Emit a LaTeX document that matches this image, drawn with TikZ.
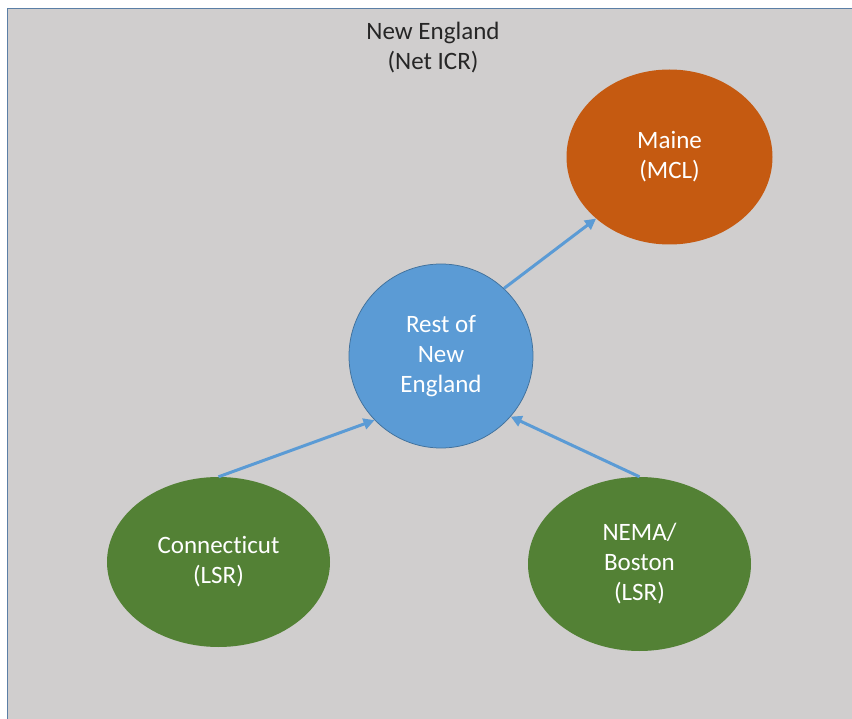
\documentclass[tikz,border=0pt]{standalone}
\usepackage{fontspec}
\setmainfont[Ligatures=NoCommon]{Carlito}
\usetikzlibrary{shapes.geometric,arrows.meta}
\definecolor{bgfill}{HTML}{D0CECE}
\definecolor{framec}{HTML}{5B7FA6}
\definecolor{orangeM}{HTML}{C55A11}
\definecolor{blueC}{HTML}{5B9BD5}
\definecolor{blueD}{HTML}{41719C}
\definecolor{greenC}{HTML}{538135}
\definecolor{titlec}{HTML}{262626}
\begin{document}
\begin{tikzpicture}[x=1pt,y=-1pt,
  lbl/.style={font=\fontsize{25}{30}\selectfont, align=center},
  region/.style={lbl, text=white, inner sep=0pt},
  conn/.style={draw=blueC, line width=3pt, -{Triangle[length=11pt,width=11pt]}}
]
\useasboundingbox (0,0) rectangle (852,719);
\fill[white] (0,0) rectangle (852,719);
\filldraw[fill=bgfill, draw=framec, line width=1.5pt] (7.5,8.5) rectangle (870,740);

\node[lbl, text=titlec] (title) at (433,48) {New England\\(Net ICR)};

\node[region, ellipse, fill=orangeM, minimum width=206pt, minimum height=175pt] (maine) at (669.5,157) {Maine\\(MCL)};
\node[region, circle, fill=blueC, draw=blueD, line width=0.75pt, minimum size=184pt] (rest) at (441,356) {Rest of\\New\\England};
\node[region, ellipse, fill=greenC, minimum width=223pt, minimum height=170pt] (ct) at (218.5,562) {Connecticut\\(LSR)};
\node[region, ellipse, fill=greenC, minimum width=223pt, minimum height=174pt] (nema) at (639.5,564) {NEMA/\\Boston\\(LSR)};

\draw[conn] (rest.47) -- (maine.220);
\draw[conn] (ct.north) -- (rest.224);
\draw[conn] (nema.north) -- (rest.319);
\end{tikzpicture}
\end{document}
